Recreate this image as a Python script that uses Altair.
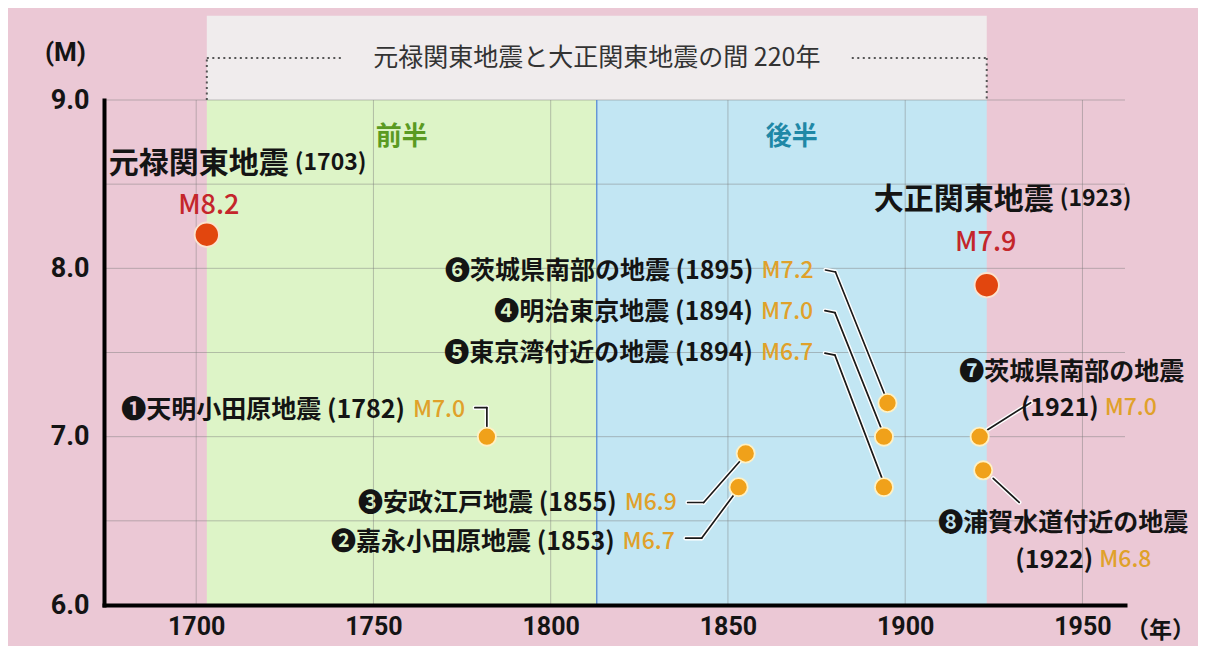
import altair as alt
import pandas as pd

# ---------------- data ----------------
big_names = ["元禄関東地震", "大正関東地震"]
big_years = [1703, 1923]
big_mags = [8.2, 7.9]

small_nums = ["❶", "❷", "❸", "❹", "❺", "❻", "❼", "❽"]
small_names = ["天明小田原地震", "嘉永小田原地震", "安政江戸地震", "明治東京地震",
               "東京湾付近の地震", "茨城県南部の地震", "茨城県南部の地震", "浦賀水道付近の地震"]
small_years = [1782, 1853, 1855, 1894, 1894, 1895, 1921, 1922]
small_mags = [7.0, 6.7, 6.9, 7.0, 6.7, 7.2, 7.0, 6.8]

x_ticks = [1700, 1750, 1800, 1850, 1900, 1950]
y_ticks = [6.0, 7.0, 8.0, 9.0]
y_grid = [6.5, 7.0, 7.5, 8.0, 8.5, 9.0]

span_title = "元禄関東地震と大正関東地震の間 220年"
half_labels = ["前半", "後半"]

# ---------------- layout helpers ----------------
X_DOMAIN = [1674, 1962]
Y_DOMAIN = [6.0, 9.0]
W, H = 1021, 505
PXY = W / (X_DOMAIN[1] - X_DOMAIN[0])
PXM = H / (Y_DOMAIN[1] - Y_DOMAIN[0])


def off(year, mag, dx, dy):
    return year + dx / PXY, mag - dy / PXM


mid_year = (big_years[0] + big_years[1]) / 2

# label layout, pixel offsets relative to each dot
single_join = [(-78, -27), (-120, 55), (-125, 49), (-127, -125), (-127, -134), (-130, -132)]
single_conn = [
    [(-12, -29), (0, -29), (0, -10)],
    [(-53, 51), (-37, 51), (-5, 8)],
    [(-58, 49), (-42, 49), (-6, 8)],
    [(-59, -126), (-49, -124), (-3, -9)],
    [(-59, -134), (-49, -132), (-2, -9)],
    [(-62, -133), (-52, -131), (-3, -9)],
]
double_name = [(92, -65), (80, 53)]
double_join = [(122, -29), (113, 90)]
double_conn = [[(8, -7), (51, -34)], [(10, 8), (36, 32)]]
big_join = [(85, -71), (70, -85)]
big_mlab = [(2, -29), (-1, -42)]

JP = "Noto Sans CJK JP"
NUM = "Roboto, Noto Sans, sans-serif"
BLACK = "#141414"
ORANGE_TXT = "#e0a12a"
RED_TXT = "#c4262b"

xs = alt.Scale(domain=X_DOMAIN, nice=False, zero=False)
ys = alt.Scale(domain=Y_DOMAIN, nice=False, zero=False)
X = alt.X("x:Q", scale=xs, axis=alt.Axis(
    values=x_ticks, format="d", grid=False, ticks=False, domainColor="black",
    domainWidth=4, domainCap="square", labelFont=NUM, labelFontSize=25,
    labelFontWeight="bold", labelColor=BLACK, labelPadding=9, labelBaseline="top",
    title="（年）", titleFont=JP, titleFontSize=23, titleFontWeight="bold",
    titleColor=BLACK, titleX=1056, titleY=25, titleAlign="center",
    titleBaseline="middle", zindex=1))
Y = alt.Y("y:Q", scale=ys, axis=alt.Axis(
    values=y_ticks, format=".1f", grid=False, ticks=False, domainColor="black",
    domainWidth=4, domainCap="square", labelFont=NUM, labelFontSize=27,
    labelFontWeight="bold", labelColor=BLACK, labelPadding=15,
    title="(M)", titleFont=NUM, titleFontSize=26, titleFontWeight="bold",
    titleColor=BLACK, titleAngle=0, titleX=-39, titleY=-48, titleAlign="center",
    titleBaseline="middle", zindex=1))
X2 = alt.X2("x2:Q")
Y2 = alt.Y2("y2:Q")

layers = []

# top light band behind the span title
top_df = pd.DataFrame({"x": [big_years[0]], "x2": [big_years[1]], "y": [9.0], "y2": [9.5]})
layers.append(alt.Chart(top_df).mark_rect(color="#f0eced").encode(x=X, x2=X2, y=Y, y2=Y2))

# half bands
band_df = pd.DataFrame({"x": [big_years[0], mid_year], "x2": [mid_year, big_years[1]],
                        "y": [6.0, 6.0], "y2": [9.0, 9.0], "c": ["#ddf4c7", "#c2e6f3"]})
layers.append(alt.Chart(band_df).mark_rect().encode(
    x=X, x2=X2, y=Y, y2=Y2, color=alt.Color("c:N", scale=None)))

# grid
vg = pd.DataFrame({"x": x_ticks, "y": [6.0] * len(x_ticks), "y2": [9.0] * len(x_ticks)})
hg = pd.DataFrame({"y": y_grid, "x": [X_DOMAIN[0]] * len(y_grid), "x2": [X_DOMAIN[1]] * len(y_grid)})
layers.append(alt.Chart(vg).mark_rule(color="#7a7a7a", opacity=0.45, strokeWidth=1).encode(x=X, y=Y, y2=Y2))
layers.append(alt.Chart(hg).mark_rule(color="#7a7a7a", opacity=0.45, strokeWidth=1).encode(y=Y, x=X, x2=X2))

# boundary between halves
bd = pd.DataFrame({"x": [mid_year], "y": [6.0], "y2": [9.0]})
layers.append(alt.Chart(bd).mark_rule(color="#4f86d4", strokeWidth=1.2).encode(x=X, y=Y, y2=Y2))

# dotted bracket
ty = 9.0 + 42 / PXM
gap = 255 / PXY
br = pd.DataFrame({
    "x": [big_years[0], big_years[0], mid_year + gap, big_years[1]],
    "y": [9.0, ty, ty, ty],
    "x2": [big_years[0], mid_year - gap, big_years[1], big_years[1]],
    "y2": [ty, ty, ty, 9.0],
})
layers.append(alt.Chart(br).mark_rule(color="#555555", strokeWidth=2, strokeDash=[2, 3.5]).encode(
    x=X, y=Y, x2=X2, y2=Y2))
layers.append(alt.Chart(pd.DataFrame({"x": [mid_year], "y": [ty], "t": [span_title]})).mark_text(
    font=JP, fontSize=25, color="#333333", align="center", baseline="middle").encode(x=X, y=Y, text="t:N"))

# half labels
hl = pd.DataFrame({"x": [(big_years[0] + mid_year) / 2, (mid_year + big_years[1]) / 2],
                   "y": [9.0 - 37 / PXM] * 2, "t": half_labels, "c": ["#5a9a22", "#1f88a6"]})
layers.append(alt.Chart(hl).mark_text(font=JP, fontSize=26, fontWeight="bold", align="center",
                                      baseline="middle").encode(
    x=X, y=Y, text="t:N", color=alt.Color("c:N", scale=None)))

# connectors
segs = []
for i in range(6):
    pts = [off(small_years[i], small_mags[i], dx, dy) for dx, dy in single_conn[i]]
    for a, b in zip(pts[:-1], pts[1:]):
        segs.append({"x": a[0], "y": a[1], "x2": b[0], "y2": b[1]})
for k in range(2):
    i = 6 + k
    pts = [off(small_years[i], small_mags[i], dx, dy) for dx, dy in double_conn[k]]
    segs.append({"x": pts[0][0], "y": pts[0][1], "x2": pts[1][0], "y2": pts[1][1]})
seg_df = pd.DataFrame(segs)
layers.append(alt.Chart(seg_df).mark_rule(color="white", strokeWidth=4.5, strokeCap="round").encode(
    x=X, y=Y, x2=X2, y2=Y2))
layers.append(alt.Chart(seg_df).mark_rule(color="#1a1a1a", strokeWidth=1.7, strokeCap="round").encode(
    x=X, y=Y, x2=X2, y2=Y2))

# dots
sd = pd.DataFrame({"x": small_years, "y": small_mags})
bdots = pd.DataFrame({"x": big_years, "y": big_mags})
layers.append(alt.Chart(sd).mark_circle(size=330, opacity=1, color="#f0a11a", stroke="#fff1c4",
                                        strokeWidth=1.8).encode(x=X, y=Y))
layers.append(alt.Chart(bdots).mark_circle(size=590, opacity=1, color="#e2460e", stroke="#fbe3cf",
                                           strokeWidth=1.8).encode(x=X, y=Y))


def fmt_m(m):
    return "M" + f"{m:.1f}"


def txt(df, align, size, color, weight="bold", font=JP, dx=0):
    return [alt.Chart(df).mark_text(font=font, fontSize=size, fontWeight=weight, align=align,
                                    baseline="middle", dx=dx, color=color).encode(x=X, y=Y, text="t:N")]


# single-line small labels
rows_n, rows_m = [], []
for i in range(6):
    jx, jy = off(small_years[i], small_mags[i], *single_join[i])
    rows_n.append({"x": jx, "y": jy, "t": f"{small_nums[i]}{small_names[i]} ({small_years[i]})"})
    rows_m.append({"x": jx, "y": jy, "t": fmt_m(small_mags[i])})
layers += txt(pd.DataFrame(rows_n), "right", 25, BLACK, dx=-4)
layers += txt(pd.DataFrame(rows_m), "left", 23, ORANGE_TXT, weight=500, dx=4)

# two-line small labels
rows_c, rows_y, rows_m2 = [], [], []
for k in range(2):
    i = 6 + k
    nx, ny = off(small_years[i], small_mags[i], *double_name[k])
    jx, jy = off(small_years[i], small_mags[i], *double_join[k])
    rows_c.append({"x": nx, "y": ny, "t": f"{small_nums[i]}{small_names[i]}"})
    rows_y.append({"x": jx, "y": jy, "t": f"({small_years[i]})"})
    rows_m2.append({"x": jx, "y": jy, "t": fmt_m(small_mags[i])})
layers += txt(pd.DataFrame(rows_c), "center", 25, BLACK)
layers += txt(pd.DataFrame(rows_y), "right", 25, BLACK, dx=-3)
layers += txt(pd.DataFrame(rows_m2), "left", 23, ORANGE_TXT, weight=500, dx=3)

# big labels
rows_bn, rows_by, rows_bm = [], [], []
for i in range(2):
    jx, jy = off(big_years[i], big_mags[i], *big_join[i])
    mx, my = off(big_years[i], big_mags[i], *big_mlab[i])
    rows_bn.append({"x": jx, "y": jy, "t": big_names[i]})
    rows_by.append({"x": jx, "y": jy + 1 / PXM, "t": f"({big_years[i]})"})
    rows_bm.append({"x": mx, "y": my, "t": fmt_m(big_mags[i])})
layers += txt(pd.DataFrame(rows_bn), "right", 30, BLACK, dx=-3)
layers += txt(pd.DataFrame(rows_by), "left", 23, BLACK, dx=3)
layers += txt(pd.DataFrame(rows_bm), "center", 27, RED_TXT, weight=500)

chart = alt.layer(*layers).properties(
    width=W, height=H,
    background="#ebc8d5",
    padding={"left": 96, "top": 92, "right": 73, "bottom": 41},
    autosize=alt.AutoSizeParams(type="none"),
).configure_view(stroke=None)

chart.save("out.html", embed_options={"renderer": "svg", "actions": False})
